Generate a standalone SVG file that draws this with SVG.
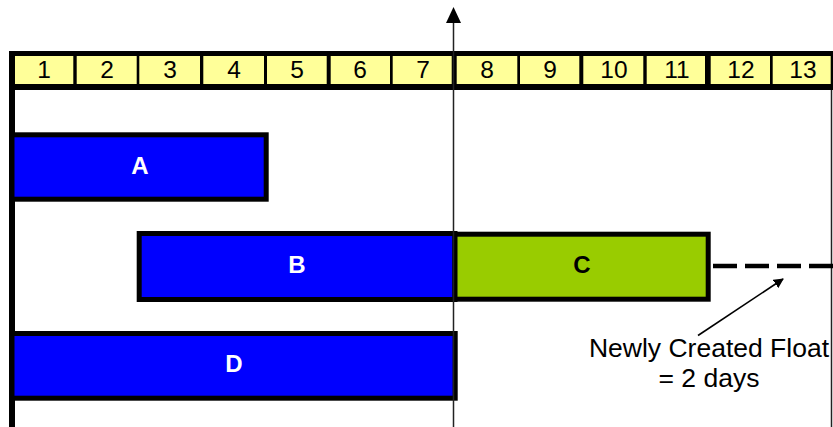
<svg xmlns="http://www.w3.org/2000/svg" width="833" height="427" viewBox="0 0 833 427">
<defs>
<style>
.cell{fill:#FFFF99}
.num{font-family:"Liberation Sans",Arial,sans-serif;font-size:24.5px;fill:#000;text-anchor:middle}
.bar{stroke:#000;stroke-width:5}
.blue{fill:#0000FF}
.green{fill:#99CC00}
.lbl{font-family:"Liberation Sans",Arial,sans-serif;font-size:24px;font-weight:bold;text-anchor:middle}
.note{font-family:"Liberation Sans",Arial,sans-serif;font-size:26.5px;fill:#000;text-anchor:middle}
</style>
<marker id="ah" markerWidth="10" markerHeight="10" refX="9" refY="5" orient="auto" markerUnits="userSpaceOnUse" viewBox="0 0 10 10">
<path d="M0,0 L10,5 L0,10 z" fill="#000"/>
</marker>
</defs>
<rect width="833" height="427" fill="#fff"/>
<g id="frame">
<rect x="9" y="51" width="824" height="39" fill="#000"/>
<rect x="9" y="90" width="6" height="337" fill="#000"/>
<line x1="831.5" y1="90" x2="831.5" y2="427" stroke="#222" stroke-width="1.5"/>
</g>
<g id="header">
<rect class="cell" x="15" y="56" width="58.3" height="28"/>
<rect class="cell" x="76.7" y="56" width="60" height="28"/>
<rect class="cell" x="139.3" y="56" width="60.7" height="28"/>
<rect class="cell" x="203.3" y="56" width="60.7" height="28"/>
<rect class="cell" x="267" y="56" width="59.7" height="28"/>
<rect class="cell" x="330.7" y="56" width="59.3" height="28"/>
<rect class="cell" x="392.7" y="56" width="59" height="28"/>
<rect class="cell" x="456.7" y="56" width="60.6" height="28"/>
<rect class="cell" x="520" y="56" width="59.3" height="28"/>
<rect class="cell" x="583.3" y="56" width="60" height="28"/>
<rect class="cell" x="646.7" y="56" width="58.3" height="28"/>
<rect class="cell" x="710.7" y="56" width="59.3" height="28"/>
<rect class="cell" x="772.7" y="56" width="58" height="28"/>
<text class="num" x="44" y="78">1</text>
<text class="num" x="107" y="78">2</text>
<text class="num" x="170" y="78">3</text>
<text class="num" x="234" y="78">4</text>
<text class="num" x="297" y="78">5</text>
<text class="num" x="360" y="78">6</text>
<text class="num" x="423" y="78">7</text>
<text class="num" x="487" y="78">8</text>
<text class="num" x="550" y="78">9</text>
<text class="num" x="614" y="78">10</text>
<text class="num" x="677" y="78">11</text>
<text class="num" x="741" y="78">12</text>
<text class="num" x="803" y="78">13</text>
</g>
<g id="A">
<rect class="bar blue" x="12" y="134.8" width="254.2" height="64.4"/>
<text class="lbl" x="140" y="174" fill="#fff">A</text>
</g>
<g id="B">
<rect class="bar blue" x="139.2" y="233.5" width="315.8" height="66"/>
<text class="lbl" x="297" y="273" fill="#fff">B</text>
</g>
<g id="C">
<rect class="bar green" x="455" y="234.2" width="253.2" height="65"/>
<text class="lbl" x="582" y="273" fill="#000">C</text>
</g>
<g id="D">
<rect class="bar blue" x="12" y="333.5" width="443.2" height="64.7"/>
<text class="lbl" x="234" y="372" fill="#fff">D</text>
</g>
<g id="connectors">
<line x1="453.5" y1="427" x2="453.5" y2="22" stroke="#222" stroke-width="1.5"/>
<path d="M453.5,7 L461,23 L446,23 z" fill="#000"/>
<line x1="713" y1="266" x2="833" y2="266" stroke="#000" stroke-width="4.5" stroke-dasharray="24 8"/>
<line x1="698" y1="335.5" x2="783" y2="279" stroke="#000" stroke-width="1.6" marker-end="url(#ah)"/>
</g>
<g id="note">
<text class="note" x="709" y="357">Newly Created Float</text>
<text class="note" x="709" y="387">= 2 days</text>
</g>
</svg>
